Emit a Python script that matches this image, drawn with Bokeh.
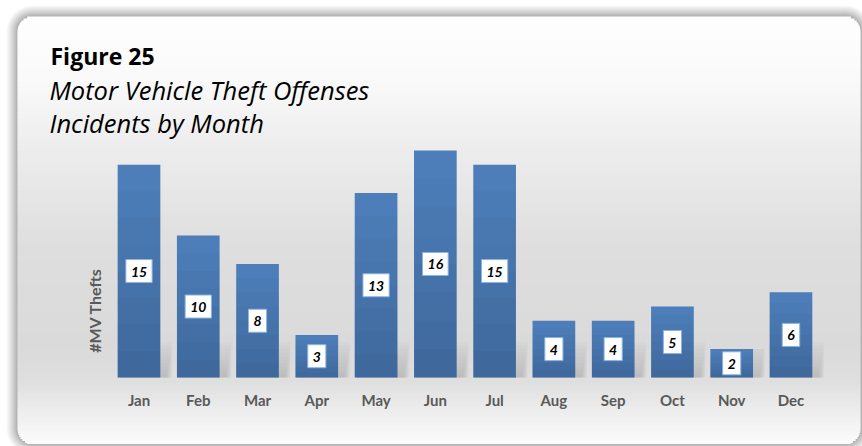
import math
from bokeh.plotting import figure
from bokeh.models import BoxAnnotation, Label, ColumnDataSource, Range1d
from bokeh.core.properties import value
from bokeh.embed import file_html
from bokeh.resources import INLINE

months = ["Jan", "Feb", "Mar", "Apr", "May", "Jun", "Jul", "Aug", "Sep", "Oct", "Nov", "Dec"]
thefts = [15, 10, 8, 3, 13, 16, 15, 4, 4, 5, 2, 6]
title_main = "Figure 25"
title_sub1 = "Motor Vehicle Theft Offenses"
title_sub2 = "Incidents by Month"
y_title = "#MV Thefts"

W, H = 862, 446
FONT = "Lato"
TFONT = "Open Sans"

# pixel geometry of the plotting scale (frame covers the whole canvas)
X0, PPX = 138.5, 59.27     # centre of first category, px per category
Y0, PPY = 377.0, 14.19     # baseline, px per unit

xs = list(range(len(months)))
src = ColumnDataSource(dict(
    x=xs,
    month=months,
    thefts=thefts,
    mid=[v / 2 for v in thefts],
    label=[str(v) for v in thefts],
))

p = figure(width=W, height=H,
           x_range=Range1d(-X0 / PPX, (W - X0) / PPX),
           y_range=Range1d(-(H - Y0) / PPY, Y0 / PPY),
           output_backend="svg", toolbar_location=None,
           x_axis_location=None, y_axis_location=None,
           min_border=0)
p.title.visible = False
p.outline_line_color = None
p.grid.visible = False
p.background_fill_color = "white"
p.border_fill_color = "white"

# ---- decorative chart-area box with shadow and vertical gradient ----
BL, BT, BR, BB = 17, 16, 860, 443
R = 15
for i in range(12, 0, -1):
    g = int(round(165 + (255 - 165) * (i / 12.0) ** 0.8))
    p.add_layout(BoxAnnotation(left=BL - i, right=BR + i, top=BT - i, bottom=BB + i,
                               left_units="canvas", right_units="canvas",
                               top_units="canvas", bottom_units="canvas",
                               fill_color=(g, g, g), fill_alpha=1.0, line_color=None,
                               border_radius=R + i, level="image"))

stops = [(0, 254), (60, 250), (130, 237), (230, 222), (330, 218), (365, 223), (395, 238), (427, 252)]
def grey_at(y):
    for (y0, g0), (y1, g1) in zip(stops[:-1], stops[1:]):
        if y0 <= y <= y1:
            return int(round(g0 + (g1 - g0) * (y - y0) / (y1 - y0)))
    return stops[-1][1]

step = 2
y = BT
while y < BB:
    y2 = min(y + step, BB)
    d = min(y - BT, BB - y2)
    inset = 0.0
    if d < R:
        inset = R - math.sqrt(max(R * R - (R - d - 1) ** 2, 0))
    g = grey_at(y - BT)
    p.add_layout(BoxAnnotation(left=BL + inset, right=BR - inset, top=y, bottom=y2 + 0.5,
                               left_units="canvas", right_units="canvas",
                               top_units="canvas", bottom_units="canvas",
                               fill_color=(g, g, g), fill_alpha=1.0, line_color=None,
                               level="image"))
    y = y2

# ---- soft floor shadow behind the bars ----
for k in range(1, 11):
    p.vbar(x=[x + 0.1 for x in xs], top=[min(v, 0.25 * k) for v in thefts],
           width=0.72 + 0.02 * k, fill_color="#404040", fill_alpha=0.022, line_color=None)

# ---- bars ----
p.vbar(x="x", top="thefts", width=0.72, source=src,
       fill_color="#4f81bd", line_color=None)
for k in range(1, 9):
    p.vbar(x=xs, top=[v * k / 8 for v in thefts], width=0.72,
           fill_color="black", fill_alpha=0.018, line_color=None)

# ---- value labels ----
p.text(x="x", y="mid", text="label", source=src,
       text_font=value(FONT), text_font_style="bold italic", text_font_size="14px",
       text_color="black", text_align="center", text_baseline="middle",
       background_fill_color="white", border_line_color="#8db3e2", border_line_width=1,
       padding=dict(left=5, right=5, top=7, bottom=6))

# ---- category labels (x axis) ----
p.text(x=xs, y=[-(399 - Y0) / PPY] * len(xs), text=months,
       text_font=value(FONT), text_font_style="bold", text_font_size="15px",
       text_color="#595959", text_align="center", text_baseline="alphabetic")

# ---- titles ----
p.add_layout(Label(x=50, y=55, x_units="canvas", y_units="canvas", text=title_main,
                   text_font=TFONT, text_font_style="bold", text_font_size="23px",
                   text_color="black", text_baseline="alphabetic"))
p.add_layout(Label(x=49, y=89, x_units="canvas", y_units="canvas", text=title_sub1,
                   text_font=TFONT, text_font_style="italic", text_font_size="25.5px",
                   text_color="black", text_baseline="alphabetic"))
p.add_layout(Label(x=49, y=122, x_units="canvas", y_units="canvas", text=title_sub2,
                   text_font=TFONT, text_font_style="italic", text_font_size="25.5px",
                   text_color="black", text_baseline="alphabetic"))
p.add_layout(Label(x=94, y=310, x_units="canvas", y_units="canvas", text=y_title,
                   angle=math.pi / 2, text_font=FONT, text_font_style="bold",
                   text_font_size="16px", text_color="#595959",
                   text_align="center", text_baseline="middle"))

open("out.html", "w").write(file_html(p, INLINE))
